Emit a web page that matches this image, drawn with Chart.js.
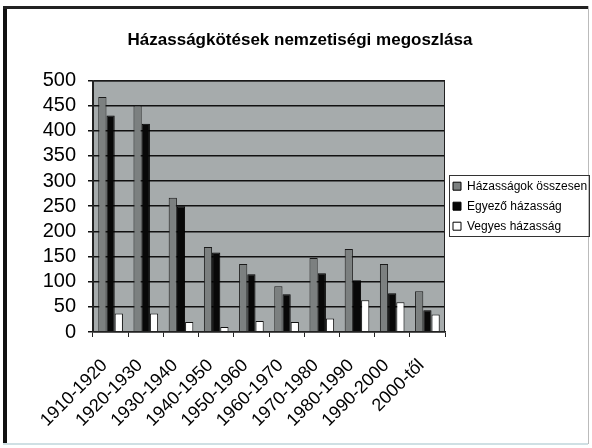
<!DOCTYPE html>
<html>
<head>
<meta charset="utf-8">
<script src="https://cdn.jsdelivr.net/npm/chart.js@4/dist/chart.umd.min.js"></script>
<style>
  html, body { margin: 0; padding: 0; background: #fff; }
  #wrap { position: relative; width: 592px; height: 448px; }
</style>
</head>
<body>
<div id="wrap"><canvas id="chartContainer" width="592" height="448"></canvas></div>
<script>
const categories = ['1910-1920', '1920-1930', '1930-1940', '1940-1950', '1950-1960',
                    '1960-1970', '1970-1980', '1980-1990', '1990-2000', '2000-től'];
const osszesen = [467, 450, 267, 169, 135, 91, 147, 165, 135, 81];
const egyezo   = [430, 414, 250, 158, 115, 75, 117, 103, 77, 43];
const vegyes   = [37, 37, 20, 10, 22, 20, 27, 63, 59, 35];
const yTicks   = [0, 50, 100, 150, 200, 250, 300, 350, 400, 450, 500];

const FONT = 'Arial, "Liberation Sans", sans-serif';

// background, frame and plot fill
const framePlugin = {
  id: 'frame',
  beforeDraw(chart) {
    const c = chart.ctx, a = chart.chartArea;
    c.save();
    c.fillStyle = '#fff';
    c.fillRect(0, 0, chart.width, chart.height);
    c.fillStyle = '#a6abac';
    c.fillRect(a.left, a.top, a.right - a.left, a.bottom - a.top);
    // outer frame
    c.fillStyle = '#111';
    c.fillRect(3, 6, 4, 438);
    c.fillStyle = '#222';
    c.fillRect(3, 6, 585, 3);
    c.fillStyle = '#bbb';
    c.fillRect(588, 6, 1, 438);
    c.fillStyle = '#cfe0e4';
    c.fillRect(3, 443, 585, 2);
    c.restore();
  },
  afterDraw(chart) {
    const c = chart.ctx, a = chart.chartArea;
    c.save();
    c.strokeStyle = '#222';
    c.lineWidth = 1;
    c.strokeRect(a.left + 0.5, a.top + 0.5, a.right - a.left - 1, a.bottom - a.top - 1);
    // legend border
    const boxes = chart.legend.legendHitBoxes;
    if (boxes && boxes.length) {
      const l = Math.min(...boxes.map(b => b.left)) - 4;
      const t = Math.min(...boxes.map(b => b.top)) - 5;
      const r = Math.max(...boxes.map(b => b.left + b.width)) + 2;
      const btm = Math.max(...boxes.map(b => b.top + b.height)) + 4;
      c.strokeStyle = '#333';
      c.strokeRect(Math.round(l) + 0.5, Math.round(t) + 0.5, Math.round(r - l), Math.round(btm - t));
    }
    c.restore();
  }
};

const ctx = document.getElementById('chartContainer').getContext('2d');
new Chart(ctx, {
  type: 'bar',
  data: {
    labels: categories,
    datasets: [
      { label: 'Házasságok összesen', data: osszesen, backgroundColor: '#7c8080', borderColor: '#1a1a1a', borderWidth: 1 },
      { label: 'Egyező házasság', data: egyezo, backgroundColor: '#080808', borderColor: '#000', borderWidth: 1 },
      { label: 'Vegyes házasság', data: vegyes, backgroundColor: '#ffffff', borderColor: '#111', borderWidth: 1 }
    ]
  },
  options: {
    responsive: false,
    animation: false,
    layout: { padding: { left: 10, right: 2, top: 8, bottom: 4 } },
    datasets: { bar: { categoryPercentage: 0.7, barPercentage: 1.0 } },
    plugins: {
      title: {
        display: true,
        text: 'Házasságkötések nemzetiségi megoszlása',
        color: '#000',
        font: { family: FONT, size: 17, weight: 'bold' },
        padding: { top: 22, bottom: 30 }
      },
      legend: {
        position: 'right',
        fullSize: false,
        labels: {
          color: '#000',
          font: { family: FONT, size: 12 },
          boxWidth: 8,
          boxHeight: 8,
          padding: 8,
          generateLabels(chart) {
            return chart.data.datasets.map((d, i) => ({
              text: d.label,
              fillStyle: d.backgroundColor,
              strokeStyle: '#000',
              lineWidth: 1,
              datasetIndex: i,
              fontColor: '#000'
            }));
          }
        }
      },
      tooltip: { enabled: false }
    },
    scales: {
      x: {
        grid: { display: true, drawOnChartArea: false, color: '#222', tickLength: 5, offset: true },
        border: { color: '#222', width: 1.5 },
        ticks: {
          color: '#000',
          font: { family: FONT, size: 18 },
          minRotation: 45,
          maxRotation: 45,
          autoSkip: false,
          labelOffset: -6,
          padding: 18
        },
        afterFit(scale) { scale.height = 112; }
      },
      y: {
        min: 0,
        max: 500,
        afterBuildTicks(scale) { scale.ticks = yTicks.map(v => ({ value: v })); },
        grid: { color: '#111', lineWidth: 1.5, tickLength: 5 },
        border: { color: '#222', width: 1.5 },
        ticks: {
          color: '#000',
          font: { family: FONT, size: 20 },
          autoSkip: false,
          padding: 12
        },
        afterFit(scale) { scale.width = 83; }
      }
    }
  },
  plugins: [framePlugin]
});
</script>
</body>
</html>
